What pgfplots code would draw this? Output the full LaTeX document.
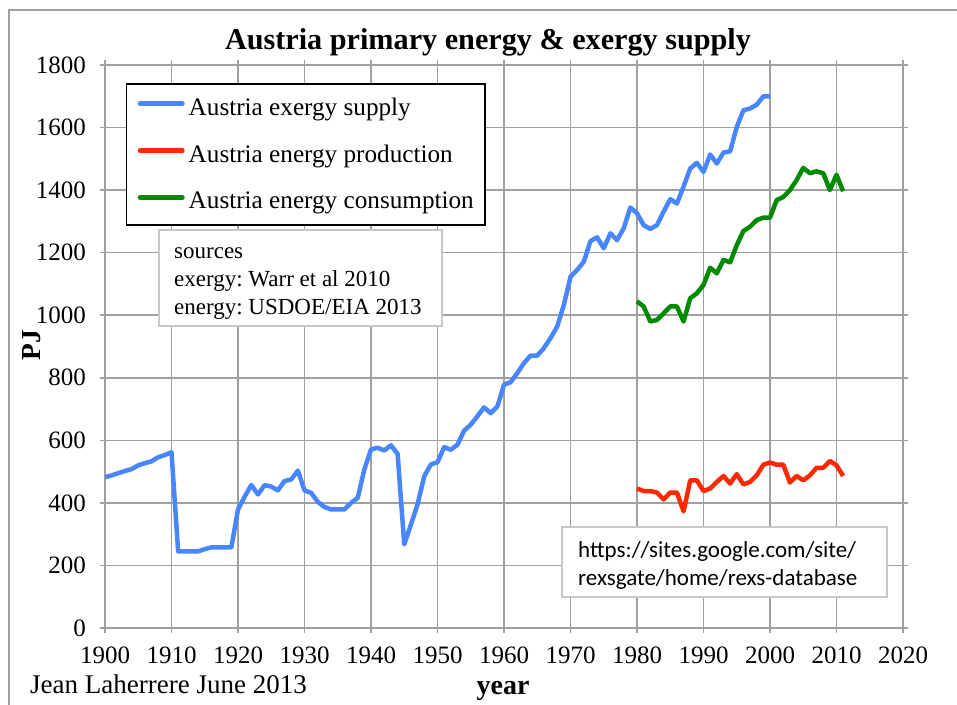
\documentclass[border=0pt]{standalone}
\usepackage{pgfplots}
\pgfplotsset{compat=1.18}
\usepackage{fontspec}
\setmainfont{Liberation Serif}
\newfontfamily\calib{Carlito}
\definecolor{cblue}{RGB}{72,134,255}
\definecolor{cred}{RGB}{255,40,0}
\definecolor{cgreen}{RGB}{0,138,0}
\definecolor{cgrid}{RGB}{160,160,160}
\definecolor{cbox}{RGB}{200,200,200}
\frenchspacing

\pgfplotstableread{
year val
1900 482
1901 488
1902 495
1903 502
1904 508
1905 520
1906 527
1907 533
1908 546
1909 553
1910 562
1911 245
1912 245
1913 245
1914 245
1915 252
1916 258
1917 258
1918 258
1919 258
1920 379
1921 420
1922 457
1923 427
1924 457
1925 452
1926 440
1927 470
1928 475
1929 503
1930 440
1931 432
1932 403
1933 387
1934 379
1935 379
1936 379
1937 400
1938 416
1939 507
1940 571
1941 576
1942 568
1943 584
1944 557
1945 267
1946 331
1947 395
1948 485
1949 523
1950 530
1951 578
1952 570
1953 586
1954 631
1955 650
1956 677
1957 705
1958 687
1959 708
1960 778
1961 786
1962 815
1963 847
1964 871
1965 871
1966 895
1967 927
1968 964
1969 1033
1970 1123
1971 1145
1972 1171
1973 1237
1974 1249
1975 1214
1976 1262
1977 1240
1978 1278
1979 1344
1980 1326
1981 1288
1982 1276
1983 1288
1984 1331
1985 1371
1986 1357
1987 1411
1988 1469
1989 1487
1990 1458
1991 1514
1992 1485
1993 1520
1994 1524
1995 1602
1996 1655
1997 1661
1998 1673
1999 1700
2000 1700
}\exergy

\pgfplotstableread{
year val
1980 446
1981 438
1982 438
1983 433
1984 411
1985 433
1986 433
1987 373
1988 472
1989 472
1990 438
1991 446
1992 467
1993 486
1994 462
1995 492
1996 459
1997 467
1998 488
1999 522
2000 529
2001 522
2002 522
2003 465
2004 486
2005 472
2006 488
2007 512
2008 512
2009 534
2010 520
2011 486
}\production

\pgfplotstableread{
year val
1980 1044
1981 1028
1982 980
1983 985
1984 1006
1985 1028
1986 1028
1987 980
1988 1054
1989 1070
1990 1097
1991 1152
1992 1134
1993 1177
1994 1169
1995 1224
1996 1269
1997 1283
1998 1304
1999 1312
2000 1312
2001 1368
2002 1378
2003 1400
2004 1432
2005 1471
2006 1454
2007 1460
2008 1454
2009 1400
2010 1449
2011 1396
}\consumption

\begin{document}
\begin{tikzpicture}
\path[use as bounding box] (0pt,0pt) rectangle (957pt,704pt);
\draw[cgrid, line width=1.2pt] (9pt,-5pt) -- (9pt,694pt) -- (970pt,694pt);
\begin{axis}[
  at={(105pt,76pt)}, anchor=south west,
  width=798pt, height=563pt, scale only axis,
  xmin=1900, xmax=2020, ymin=0, ymax=1800,
  xtick={1900,1910,...,2020}, ytick={0,200,...,1800},
  grid=major, grid style={cgrid, line width=1.5pt},
  axis line style={cgrid, line width=1.5pt},
  tick style={cgrid, line width=1.5pt},
  tick align=outside, major tick length=5pt,
  /pgf/number format/assume math mode=true,
  /pgf/number format/1000 sep={},
  ticklabel style={font=\fontsize{25}{29}\selectfont, inner sep=0pt},
  xticklabel style={anchor=north, yshift=-14pt},
  yticklabel style={anchor=east, xshift=-14pt},
  legend style={at={(0.0263,0.968)}, anchor=north west, draw=black, line width=1.5pt, fill=white,
    font=\fontsize{25.2}{29}\selectfont, inner xsep=11pt, inner ysep=14.5pt,
    row sep=28pt, nodes={inner sep=0pt}, column sep=4pt},
  legend cell align=left,
  legend image code/.code={\draw[#1, line width=5pt, line cap=round] (2pt,0.4em) -- (44pt,0.4em);},
]
\addplot[cblue, line width=4.5pt, line join=round] table[x=year,y=val] {\exergy};
\addlegendentry{Austria exergy supply}
\addplot[cred, line width=4.5pt, line join=round] table[x=year,y=val] {\production};
\addlegendentry{Austria energy production}
\addplot[cgreen, line width=4.5pt, line join=round] table[x=year,y=val] {\consumption};
\addlegendentry{Austria energy consumption}
\end{axis}
% title and labels
\node[anchor=base, font=\fontsize{30.2}{34}\selectfont\bfseries] at (488pt,654pt) {Austria primary energy \& exergy supply};
\node[rotate=90, font=\fontsize{27.5}{32}\selectfont\bfseries] at (32pt,359pt) {PJ};
\node[anchor=base, font=\fontsize{28}{32}\selectfont\bfseries] at (503pt,10pt) {year};
\node[anchor=base west, font=\fontsize{27}{30}\selectfont, inner sep=0pt] at (30pt,11pt) {Jean Laherrere June 2013};
% sources box
\draw[cbox, line width=1.5pt, fill=white] (159pt,378pt) rectangle (442pt,474pt);
\node[anchor=base west, inner sep=0pt, font=\fontsize{23}{28}\selectfont] at (174pt,445pt) {sources};
\node[anchor=base west, inner sep=0pt, font=\fontsize{23}{28}\selectfont] at (174pt,417pt) {exergy: Warr et al 2010};
\node[anchor=base west, inner sep=0pt, font=\fontsize{23}{28}\selectfont] at (174pt,389pt) {energy: USDOE/EIA 2013};
% url box
\draw[cbox, line width=1.5pt, fill=white] (562pt,107pt) rectangle (887pt,177pt);
\node[anchor=base west, inner sep=0pt, font=\calib\fontsize{23}{28}\selectfont] at (578pt,147pt) {https://sites.google.com/site/};
\node[anchor=base west, inner sep=0pt, font=\calib\fontsize{23}{28}\selectfont] at (578pt,119pt) {rexsgate/home/rexs-database};
\end{tikzpicture}
\end{document}
